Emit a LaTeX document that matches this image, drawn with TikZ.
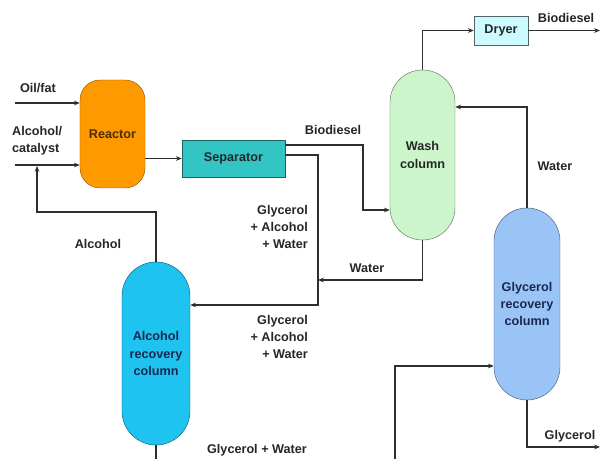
\documentclass[tikz,border=0pt]{standalone}
\usepackage{fontspec}
\setmainfont{Liberation Sans}
\usetikzlibrary{arrows.meta}
\definecolor{lineGray}{HTML}{2E2E2E}
\definecolor{reactorFill}{HTML}{FF9900}
\definecolor{sepFill}{HTML}{33C4C4}
\definecolor{washFill}{HTML}{CCF5CC}
\definecolor{dryerFill}{HTML}{CCFAFF}
\definecolor{glyFill}{HTML}{99C4F5}
\definecolor{alcFill}{HTML}{1EC3F0}
\definecolor{textNavy}{HTML}{1A2850}
\begin{document}
\begin{tikzpicture}[x=0.03cm, y=-0.03cm,
        every node/.style={font=\bfseries\fontsize{10.8}{14.8}\selectfont, text=black!85},
        flow/.style={draw=lineGray, line width=1.3pt, -{Stealth[length=5pt,width=4pt]}},
        pipe/.style={draw=lineGray, line width=1.3pt}]
        \useasboundingbox (0,0) rectangle (602,459);

        % units
        \node[draw=reactorFill!60!black, fill=reactorFill, rounded corners=0.6cm, minimum width=1.95cm, minimum height=3.24cm, text=black!70!reactorFill] (reactor) at (112.5,134) {Reactor};
        \node[draw=sepFill!50!black, fill=sepFill, minimum width=3.09cm, minimum height=1.11cm] (sep) at (233.5,158.5) {Separator};
        \node[draw=washFill!50!black, fill=washFill, rounded corners=0.97cm, minimum width=1.95cm, minimum height=5.1cm, align=center] (wash) at (422.5,155) {Wash\\column};
        \node[draw=dryerFill!40!black, fill=dryerFill, minimum width=1.62cm, minimum height=0.87cm] (dryer) at (501,30.5) {Dryer};
        \node[draw=glyFill!50!black, fill=glyFill, rounded corners=0.99cm, minimum width=1.98cm, minimum height=5.76cm, align=center, text=textNavy] (glycol) at (527,304) {Glycerol\\recovery\\column};
        \node[draw=alcFill!50!black, fill=alcFill, rounded corners=1.02cm, minimum width=2.04cm, minimum height=5.49cm, align=center, text=textNavy] (alccol) at (156,353.5) {Alcohol\\recovery\\column};

        % free ends
        \coordinate (oilin) at (15,103);
        \coordinate (alcin) at (15,165);
        \coordinate (bioout) at (600,30.5);
        \coordinate (glyout) at (600,447);
        \coordinate (glyfeed) at (395,459);
        \coordinate (alcbot) at (156,459);

        % streams
        \draw[flow] (oilin) -- (oilin -| reactor.west);
        \draw[flow] (alcin) -- (alcin -| reactor.west);
        \draw[flow] (sep.west -| reactor.east) -- (sep.west);
        \draw[flow] (sep.east |- 0,145) -- (363,145) |- (wash.west |- 0,210);
        \draw[flow] (sep.east |- 0,155) -| (318,305) -- (alccol.east |- 0,305);
        \draw[flow] (wash.south) |- (318,280);
        \draw[flow] (wash.north) |- (dryer.west);
        \draw[flow] (dryer.east) -- (bioout);
        \draw[flow] (glycol.north) |- (wash.east |- 0,107);
        \draw[flow] (glyfeed) |- (glycol.west |- 0,366);
        \draw[flow] (glycol.south) |- (glyout);
        \draw[pipe] (alccol.south) -- (alcbot);
        \draw[flow] (alccol.north) |- (37,212) -- (37,166);

        % labels
        \node (oilLbl) at (38,88) {Oil/fat};
        \node[align=left, anchor=west] (alcLbl) at (8,141) {Alcohol/\\catalyst};
        \node (bioLbl) at (333,130) {Biodiesel};
        \node[align=right, anchor=east] (glyLblA) at (312,227) {Glycerol\\+ Alcohol\\+ Water};
        \node[align=right, anchor=east] (glyLblB) at (312,337) {Glycerol\\+ Alcohol\\+ Water};
        \node (waterLbl) at (367,268) {Water};
        \node (recLbl) at (98,244) {Alcohol};
        \node (gwLbl) at (257,450) {Glycerol + Water};
        \node (bioOutLbl) at (566,18) {Biodiesel};
        \node (waterInLbl) at (555,166) {Water};
        \node (glyOutLbl) at (570,436) {Glycerol};
\end{tikzpicture}
\end{document}
